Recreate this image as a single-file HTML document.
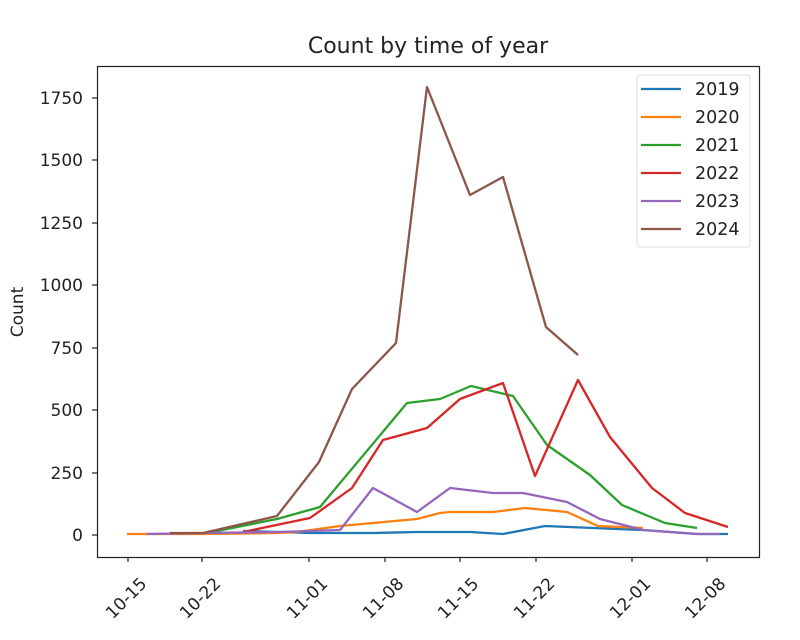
<!DOCTYPE html>
<html><head><meta charset="utf-8"><style>body{margin:0;background:#fff}</style></head><body>
<svg width="800" height="635" xmlns="http://www.w3.org/2000/svg" font-family="DejaVu Sans, Liberation Sans, sans-serif" fill="#222">
<rect width="800" height="635" fill="#fff"/>
<text x="428" y="53" font-size="22" text-anchor="middle">Count by time of year</text>
<text transform="translate(23,312) rotate(-90)" font-size="17" text-anchor="middle">Count</text>
<g stroke="#222" stroke-width="1.2">
<line x1="92" y1="535" x2="97" y2="535"/><line x1="92" y1="473" x2="97" y2="473"/><line x1="92" y1="410" x2="97" y2="410"/><line x1="92" y1="348" x2="97" y2="348"/><line x1="92" y1="285" x2="97" y2="285"/><line x1="92" y1="223" x2="97" y2="223"/><line x1="92" y1="160" x2="97" y2="160"/><line x1="92" y1="98" x2="97" y2="98"/>
<line x1="128" y1="557" x2="128" y2="562"/><line x1="202" y1="557" x2="202" y2="562"/><line x1="309" y1="557" x2="309" y2="562"/><line x1="385" y1="557" x2="385" y2="562"/><line x1="460" y1="557" x2="460" y2="562"/><line x1="536" y1="557" x2="536" y2="562"/><line x1="632" y1="557" x2="632" y2="562"/><line x1="707" y1="557" x2="707" y2="562"/>
</g>
<g font-size="17" text-anchor="end">
<text x="83" y="541">0</text><text x="83" y="479">250</text><text x="83" y="416">500</text><text x="83" y="354">750</text><text x="83" y="291">1000</text><text x="83" y="229">1250</text><text x="83" y="166">1500</text><text x="83" y="104">1750</text>
</g>
<g font-size="17" text-anchor="middle">
<text transform="translate(126,598) rotate(-45)" dy="6">10-15</text>
<text transform="translate(200,598) rotate(-45)" dy="6">10-22</text>
<text transform="translate(307,598) rotate(-45)" dy="6">11-01</text>
<text transform="translate(383,598) rotate(-45)" dy="6">11-08</text>
<text transform="translate(458,598) rotate(-45)" dy="6">11-15</text>
<text transform="translate(534,598) rotate(-45)" dy="6">11-22</text>
<text transform="translate(630,598) rotate(-45)" dy="6">12-01</text>
<text transform="translate(705,598) rotate(-45)" dy="6">12-08</text>
</g>
<g fill="none" stroke-width="2.3" stroke-linejoin="round">
<polyline stroke="#1f77b4" points="243,531 310,533 340,533 373,533 417,532 470,532 503,534 545,526 593,528 643,530 697,534 728,534"/>
<polyline stroke="#ff7f0e" points="127,534 147,534 203,534 277,533 297,532 340,526 373,523 417,519 440,513 450,512 493,512 525,508 567,512 598,526 643,528"/>
<polyline stroke="#2ca02c" points="207,533 277,519 320,507 407,403 440,399 471,386 513,396 547,445 590,475 622,505 665,523 697,528"/>
<polyline stroke="#d62728" points="243,532 310,518 352,488 383,440 427,428 460,399 503,383 535,476 578,380 610,437 652,488 685,513 728,527"/>
<polyline stroke="#9467bd" points="147,534 203,533 277,532 310,531 340,530 373,488 417,512 450,488 493,493 523,493 567,502 600,519 643,530 697,534 720,534"/>
<polyline stroke="#8c564b" points="170,533 203,533 277,516 319,462 352,389 396,343 427,87 470,195 503,177 546,327 578,355"/>
</g>
<rect x="97.5" y="66.5" width="662" height="491" fill="none" stroke="#222" stroke-width="1.2"/>
<rect x="637" y="75" width="113" height="172" rx="3" fill="#fff" fill-opacity="0.8" stroke="#ddd"/>
<g stroke-width="2.3">
<line x1="641" y1="89" x2="681" y2="89" stroke="#1f77b4"/>
<line x1="641" y1="117" x2="681" y2="117" stroke="#ff7f0e"/>
<line x1="641" y1="145" x2="681" y2="145" stroke="#2ca02c"/>
<line x1="641" y1="173" x2="681" y2="173" stroke="#d62728"/>
<line x1="641" y1="201" x2="681" y2="201" stroke="#9467bd"/>
<line x1="641" y1="229" x2="681" y2="229" stroke="#8c564b"/>
</g>
<g font-size="17.5">
<text x="695" y="95">2019</text><text x="695" y="123">2020</text><text x="695" y="151">2021</text><text x="695" y="179">2022</text><text x="695" y="207">2023</text><text x="695" y="235">2024</text>
</g>
</svg>
</body></html>
